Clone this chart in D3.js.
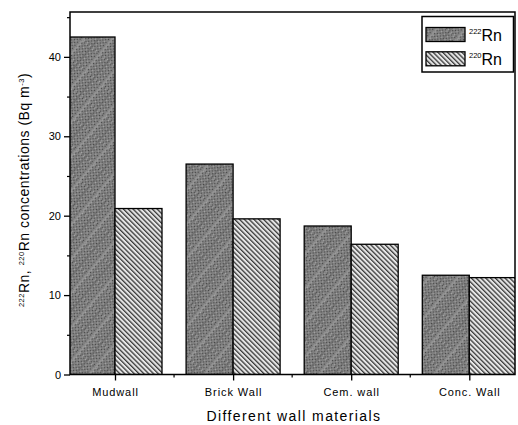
<!DOCTYPE html>
<html>
<head>
<meta charset="utf-8">
<script src="https://cdn.jsdelivr.net/npm/d3@7"></script>
<style>
body{margin:0;background:#fff;}
text{font-family:"Liberation Sans",Arial,sans-serif;fill:#000;}
</style>
</head>
<body>
<svg id="chart" width="518" height="425"></svg>
<script>
// categories and series
var categories=["Mudwall","Brick Wall","Cem. wall","Conc. Wall"];
var seriesNames=["222","220"];
var rn222=[42.5,26.5,18.7,12.5];
var rn220=[20.9,19.6,16.4,12.2];
var yMajorTicks=[0,10,20,30,40];
var yMinorTicks=[5,15,25,35,45];

// layout
var LEFT=70, RIGHT=515, TOP=12, BOTTOM=374.5;

var svg=d3.select("#chart");
var defs=svg.append("defs");

// pattern for 222Rn: dark grey with dots and faint diagonal streaks
var p1=defs.append("pattern").attr("id","pat222").attr("patternUnits","userSpaceOnUse")
	.attr("width",4).attr("height",4);
p1.append("rect").attr("width",4).attr("height",4).attr("fill","#808080");
p1.append("rect").attr("x",0).attr("y",0).attr("width",1).attr("height",1).attr("fill","#444");
p1.append("rect").attr("x",2).attr("y",2).attr("width",1).attr("height",1).attr("fill","#444");
p1.append("rect").attr("x",2).attr("y",0).attr("width",1).attr("height",1).attr("fill","#a8a8a8");
var p1b=defs.append("pattern").attr("id","pat222b").attr("patternUnits","userSpaceOnUse")
	.attr("width",22).attr("height",22).attr("patternTransform","rotate(40)");
p1b.append("rect").attr("width",22).attr("height",22).attr("fill","url(#pat222)");
p1b.append("rect").attr("x",0).attr("width",2).attr("height",22).attr("fill","#a0a0a0").attr("opacity",0.6);
p1b.append("rect").attr("x",11).attr("width",2).attr("height",22).attr("fill","#606060").attr("opacity",0.35);

// pattern for 220Rn: dense "\" hatch
var p2=defs.append("pattern").attr("id","pat220").attr("patternUnits","userSpaceOnUse")
	.attr("width",3.4).attr("height",3.4).attr("patternTransform","rotate(-45)");
p2.append("rect").attr("width",3.4).attr("height",3.4).attr("fill","#e6e6e6");
p2.append("rect").attr("x",0).attr("width",1.3).attr("height",3.4).attr("fill","#3a3a3a");

var fills={"222":"url(#pat222b)","220":"url(#pat220)"};

// scales
var x=d3.scalePoint().domain(categories).range([115,469.3]);
var xs=d3.scaleBand().domain(seriesNames).range([-47,47]).padding(0);
var y=d3.scaleLinear().domain([0,45.65]).range([BOTTOM,TOP]);

defs.append("clipPath").attr("id","plotClip").append("rect")
	.attr("x",LEFT).attr("y",TOP).attr("width",RIGHT-LEFT).attr("height",BOTTOM-TOP);

// bars
var rows=categories.map(function(c,i){return {cat:c,vals:[{s:"222",v:rn222[i]},{s:"220",v:rn220[i]}]};});
var gBars=svg.append("g").attr("clip-path","url(#plotClip)");
rows.forEach(function(r){
	gBars.selectAll(null).data(r.vals).enter().append("rect")
		.attr("x",function(d){return x(r.cat)+xs(d.s);})
		.attr("y",function(d){return y(d.v);})
		.attr("width",xs.bandwidth())
		.attr("height",function(d){return BOTTOM-y(d.v);})
		.attr("fill",function(d){return fills[d.s];})
		.attr("stroke","#000").attr("stroke-width",1.3);
});

// frame
svg.append("rect").attr("x",LEFT).attr("y",TOP).attr("width",RIGHT-LEFT).attr("height",BOTTOM-TOP)
	.attr("fill","none").attr("stroke","#000").attr("stroke-width",1.5);

// y axis
var yAxis=d3.axisLeft(y).tickValues(yMajorTicks).tickSize(6).tickPadding(3).tickFormat(d3.format("d"));
var gy=svg.append("g").attr("transform","translate("+LEFT+",0)").call(yAxis);
gy.select(".domain").remove();
gy.selectAll("line").attr("stroke-width",1.3);
gy.selectAll("text").style("font-size","11px").attr("font-family","'Liberation Sans',Arial,sans-serif");
var gy2=svg.append("g").attr("transform","translate("+LEFT+",0)")
	.call(d3.axisLeft(y).tickValues(yMinorTicks).tickSize(3).tickFormat(""));
gy2.select(".domain").remove();
gy2.selectAll("line").attr("stroke-width",1.2);

// x axis
var gx=svg.append("g").attr("transform","translate(0,"+BOTTOM+")")
	.call(d3.axisBottom(x).tickSize(6).tickPadding(8));
gx.select(".domain").remove();
gx.selectAll("line").attr("stroke-width",1.3);
gx.selectAll("text").style("font-size","11px").style("letter-spacing","0.9px")
	.attr("font-family","'Liberation Sans',Arial,sans-serif");
var minorX=[];
for(var i=0;i<categories.length-1;i++){minorX.push((x(categories[i])+x(categories[i+1]))/2);}
svg.append("g").selectAll("line").data(minorX).enter().append("line")
	.attr("x1",function(d){return d;}).attr("x2",function(d){return d;})
	.attr("y1",BOTTOM).attr("y2",BOTTOM+3).attr("stroke","#000").attr("stroke-width",1.2);

// axis titles
svg.append("text").attr("x",294).attr("y",421).attr("text-anchor","middle")
	.style("font-size","14px").style("letter-spacing","1.4px").text("Different wall materials");

var yl=svg.append("text").attr("transform","translate(29,190) rotate(-90)")
	.attr("text-anchor","middle").style("font-size","14px").style("letter-spacing","0.5px");
yl.append("tspan").attr("dy","-5").style("font-size","7.5px").text("222");
yl.append("tspan").attr("dy","5").text("Rn, ");
yl.append("tspan").attr("dy","-5").style("font-size","7.5px").text("220");
yl.append("tspan").attr("dy","5").text("Rn concentrations (Bq m");
yl.append("tspan").attr("dy","-5").style("font-size","7.5px").text("-3");
yl.append("tspan").attr("dy","5").text(")");

// legend
var lg=svg.append("g");
lg.append("rect").attr("x",422).attr("y",16.5).attr("width",91.5).attr("height",55.5)
	.attr("fill","#fff").attr("stroke","#000").attr("stroke-width",1.5);
seriesNames.forEach(function(s,i){
	var yy=27.5+i*24.3;
	lg.append("rect").attr("x",426).attr("y",yy).attr("width",39).attr("height",14)
		.attr("fill",fills[s]).attr("stroke","#000").attr("stroke-width",1.3);
	var t=lg.append("text").attr("x",469).attr("y",yy+13).style("font-size","16px");
	t.append("tspan").attr("dy","-7").style("font-size","7.5px").text(s);
	t.append("tspan").attr("dy","7").text("Rn");
});
</script>
</body>
</html>
